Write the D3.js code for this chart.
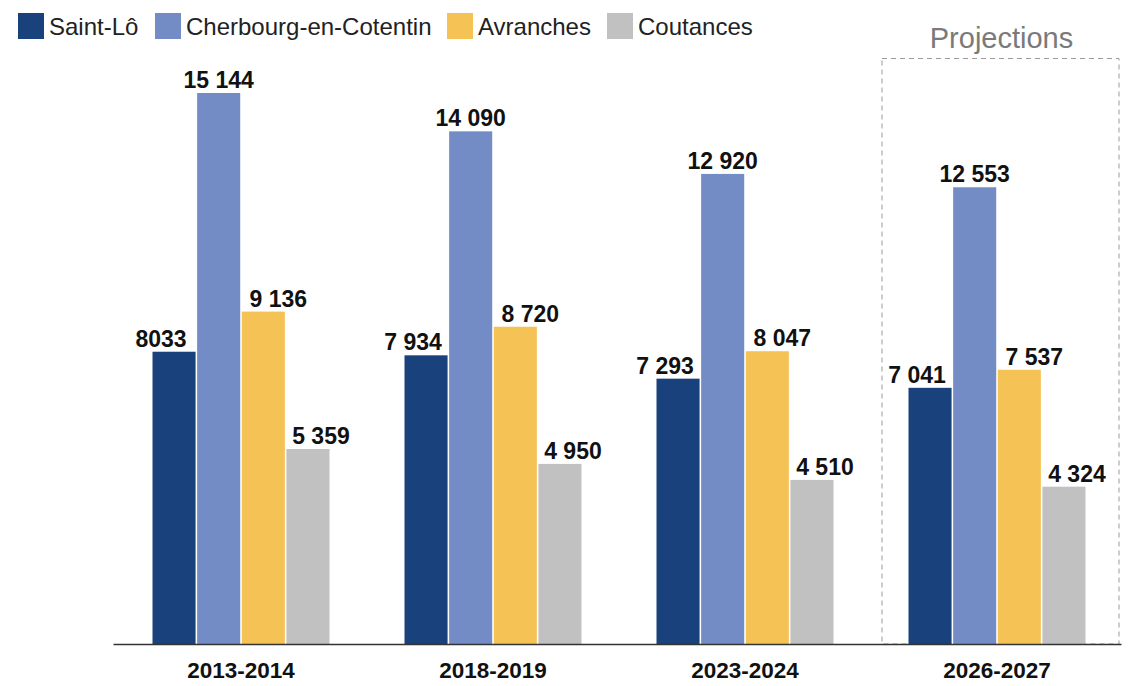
<!DOCTYPE html>
<html>
<head>
<meta charset="utf-8">
<script src="https://cdn.jsdelivr.net/npm/d3@7"></script>
<style>
  html, body { margin: 0; padding: 0; background: #fff; }
  svg { display: block; font-family: "Liberation Sans", Arial, Helvetica, sans-serif; }
</style>
</head>
<body>
<svg id="chart" width="1143" height="686"></svg>
<script>
const periods = ["2013-2014", "2018-2019", "2023-2024", "2026-2027"];
const cities = ["Saint-Lô", "Cherbourg-en-Cotentin", "Avranches", "Coutances"];
const colors = ["#19427d", "#738cc5", "#f5c256", "#c1c1c1"];
const saintLo   = [8033, 7934, 7293, 7041];
const cherbourg = [15144, 14090, 12920, 12553];
const avranches = [9136, 8720, 8047, 7537];
const coutances = [5359, 4950, 4510, 4324];
const valueLabels = [
  ["8033", "7 934", "7 293", "7 041"],
  ["15 144", "14 090", "12 920", "12 553"],
  ["9 136", "8 720", "8 047", "7 537"],
  ["5 359", "4 950", "4 510", "4 324"]
];
const projectionLabel = "Projections";
const projectedPeriod = "2026-2027";

const series = [saintLo, cherbourg, avranches, coutances];
const labelShift = [-13, 0, 15, 13];

const svg = d3.select("#chart");
const baseY = 644;

const x0 = d3.scaleBand().domain(periods).range([113, 1121]).padding(0);
const x1 = d3.scaleBand().domain(d3.range(cities.length))
  .range([-86.5, 90.5]).paddingInner(0.035).paddingOuter(0);
const y = d3.scaleLinear().domain([0, 15144]).range([baseY, 93]);

// Projection box
const px = x0(projectedPeriod);
const boxX = px + 13, boxW = x0.bandwidth() - 15;
svg.append("rect")
  .attr("x", boxX).attr("y", 58.5)
  .attr("width", boxW).attr("height", baseY - 58.5)
  .attr("fill", "none").attr("stroke", "#9a9a9a").attr("stroke-width", 1)
  .attr("stroke-dasharray", "5,4");
svg.append("text")
  .attr("x", boxX + boxW / 2 + 1).attr("y", 48)
  .attr("text-anchor", "middle").attr("font-size", 29).attr("fill", "#7a7a7a")
  .text(projectionLabel);

// Bars
const groups = svg.selectAll("g.grp").data(periods).join("g")
  .attr("class", "grp")
  .attr("transform", d => `translate(${x0(d) + x0.bandwidth() / 2},0)`);

groups.each(function(p, pi) {
  const g = d3.select(this);
  series.forEach((s, si) => {
    g.append("rect")
      .attr("x", x1(si)).attr("width", x1.bandwidth())
      .attr("y", y(s[pi])).attr("height", baseY - y(s[pi]))
      .attr("fill", colors[si]);
    g.append("text")
      .attr("x", x1(si) + x1.bandwidth() / 2 + labelShift[si])
      .attr("y", y(s[pi]) - 5)
      .attr("text-anchor", "middle")
      .attr("font-size", 23).attr("font-weight", "bold").attr("fill", "#111")
      .text(valueLabels[si][pi]);
  });
});

// Axis
const axis = svg.append("g").attr("transform", `translate(0,${baseY})`)
  .call(d3.axisBottom(x0).tickSize(0).tickPadding(18));
axis.select(".domain").attr("stroke", "#333").attr("stroke-width", 1.5);
axis.selectAll(".tick text")
  .attr("x", 2)
  .attr("font-size", 22.5).attr("font-weight", "bold").attr("fill", "#111")
  .attr("font-family", "'Liberation Sans', Arial, sans-serif")
  .attr("dy", "0.71em");

// Legend
const legendX = [18, 155, 447, 607];
const leg = svg.selectAll("g.leg").data(cities).join("g")
  .attr("class", "leg")
  .attr("transform", (d, i) => `translate(${legendX[i]},13)`);
leg.append("rect").attr("width", 26).attr("height", 26).attr("fill", (d, i) => colors[i]);
leg.append("text").attr("x", 31).attr("y", 22)
  .attr("font-size", 24).attr("fill", "#222").text(d => d);
</script>
</body>
</html>
